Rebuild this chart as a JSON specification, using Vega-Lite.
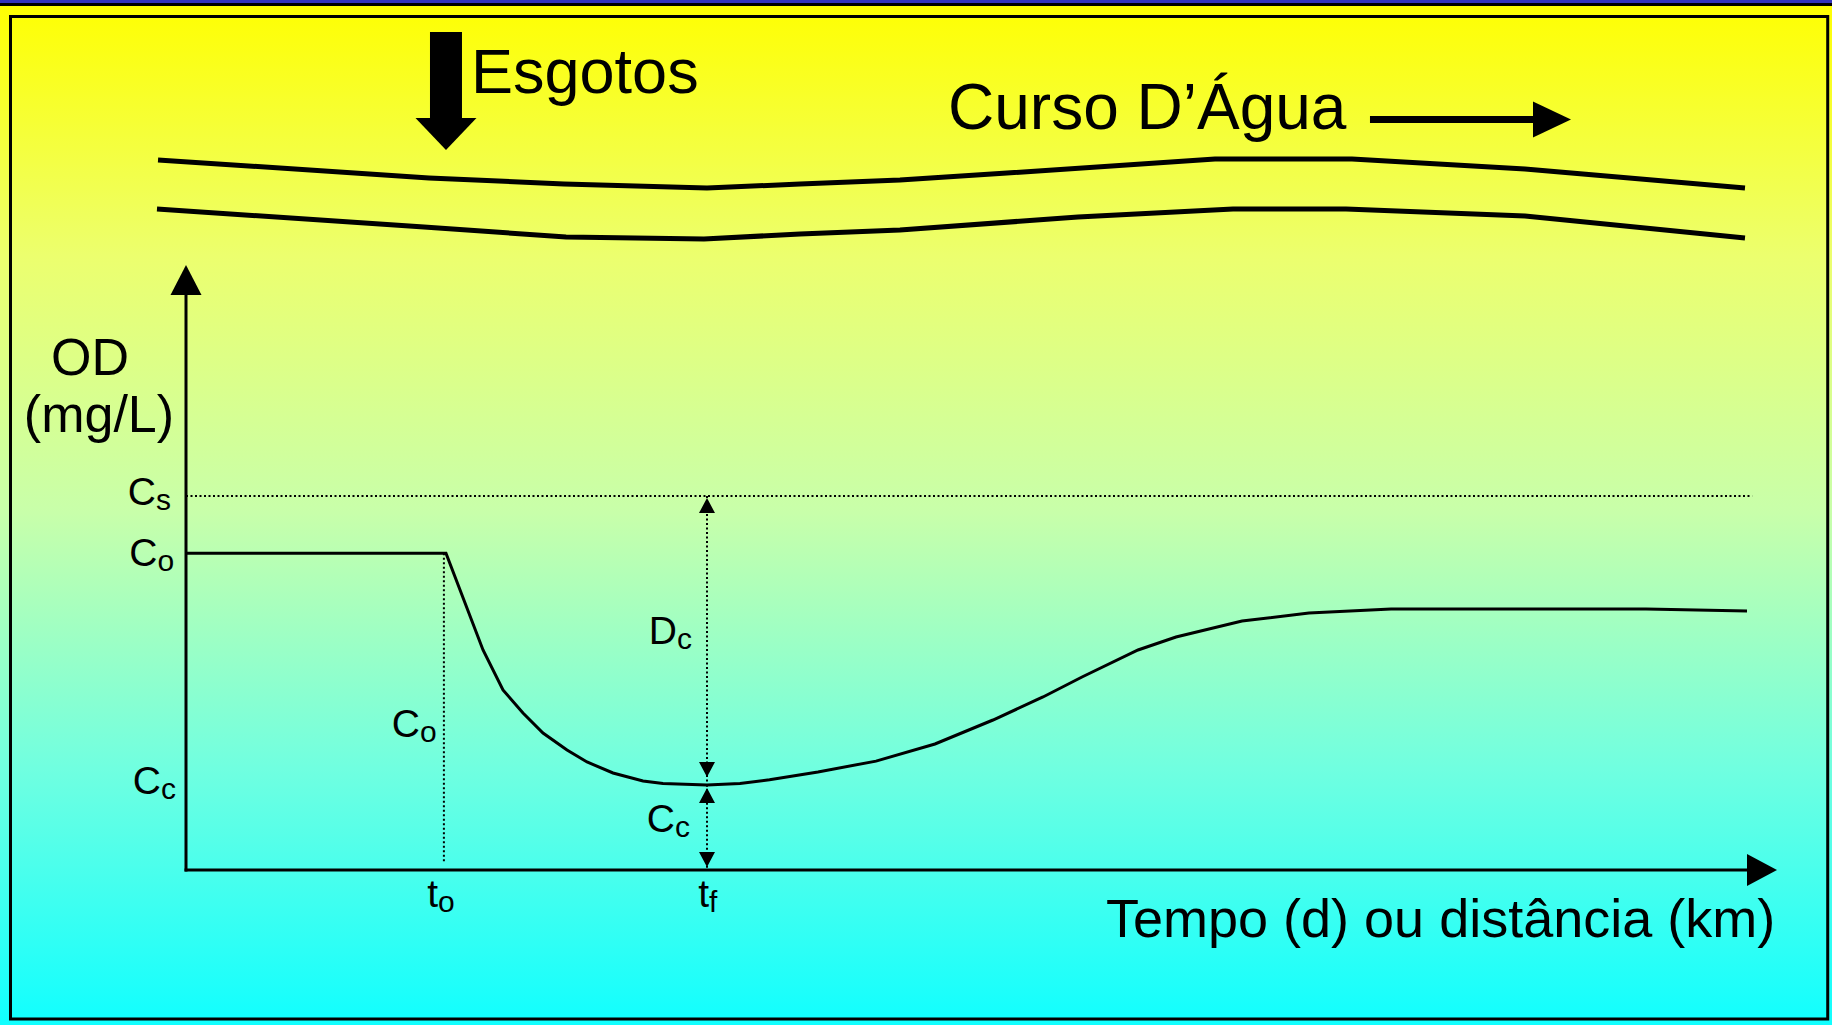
{
  "$schema": "https://vega.github.io/schema/vega-lite/v6.json",
  "autosize": {"type": "fit", "contains": "padding"},
  "width": 1832,
  "height": 1025,
  "padding": 0,
  "background": "#ffffff",
  "config": {"view": {"stroke": null}, "text": {"font": "Liberation Sans"}},
  "layer": [
    {
      "data": {"values": [{}]},
      "mark": {"type": "rect", "strokeWidth": 0, "color": {"gradient": "linear", "x1": 0, "y1": 0, "x2": 0, "y2": 1, "stops": [{"offset": 0, "color": "#ffff00"}, {"offset": 0.25, "color": "#ecff6e"}, {"offset": 0.5, "color": "#c8ffaa"}, {"offset": 0.75, "color": "#70ffe0"}, {"offset": 1, "color": "#10ffff"}]}},
      "encoding": {
        "x": {"datum": -3.5701, "type": "quantitative", "scale": {"domain": [-3.5701, 31.5931], "nice": false, "zero": false}, "axis": null},
        "x2": {"datum": 31.5931},
        "y": {"datum": 20.9336, "type": "quantitative", "scale": {"domain": [-3.7295, 20.9336], "nice": false, "zero": false}, "axis": null},
        "y2": {"datum": -3.7295}
      }
    },
    {
      "data": {"values": [{}]},
      "mark": {"type": "rect", "color": "#3434bd", "strokeWidth": 0},
      "encoding": {
        "x": {"datum": -3.5701, "type": "quantitative"},
        "x2": {"datum": 31.5931},
        "y": {"datum": 20.9336, "type": "quantitative"},
        "y2": {"datum": 20.8614}
      }
    },
    {
      "data": {"values": [{}]},
      "mark": {"type": "rect", "color": "#000000", "strokeWidth": 0},
      "encoding": {
        "x": {"datum": -3.5701, "type": "quantitative"},
        "x2": {"datum": 31.5931},
        "y": {"datum": 20.8614, "type": "quantitative"},
        "y2": {"datum": 20.7892}
      }
    },
    {
      "data": {"values": [{}]},
      "mark": {"type": "rect", "filled": false, "fill": null, "stroke": "#000000", "strokeWidth": 3},
      "encoding": {
        "x": {"datum": -3.3685, "type": "quantitative"},
        "x2": {"datum": 31.511},
        "y": {"datum": 20.5366, "type": "quantitative"},
        "y2": {"datum": -3.5852}
      }
    },
    {
      "data": {"values": [
        {"bank": "margem superior", "x": -0.537, "y": 17.084},
        {"bank": "margem superior", "x": 4.664, "y": 16.651},
        {"bank": "margem superior", "x": 7.255, "y": 16.506},
        {"bank": "margem superior", "x": 10.0, "y": 16.41},
        {"bank": "margem superior", "x": 11.785, "y": 16.506},
        {"bank": "margem superior", "x": 13.704, "y": 16.603},
        {"bank": "margem superior", "x": 15.758, "y": 16.771},
        {"bank": "margem superior", "x": 19.75, "y": 17.108},
        {"bank": "margem superior", "x": 22.38, "y": 17.108},
        {"bank": "margem superior", "x": 25.701, "y": 16.867},
        {"bank": "margem superior", "x": 29.923, "y": 16.41},
        {"bank": "margem inferior", "x": -0.557, "y": 15.905},
        {"bank": "margem inferior", "x": 4.568, "y": 15.472},
        {"bank": "margem inferior", "x": 7.294, "y": 15.231},
        {"bank": "margem inferior", "x": 9.942, "y": 15.183},
        {"bank": "margem inferior", "x": 11.785, "y": 15.303},
        {"bank": "margem inferior", "x": 13.704, "y": 15.4},
        {"bank": "margem inferior", "x": 17.121, "y": 15.712},
        {"bank": "margem inferior", "x": 20.096, "y": 15.905},
        {"bank": "margem inferior", "x": 22.265, "y": 15.905},
        {"bank": "margem inferior", "x": 25.701, "y": 15.736},
        {"bank": "margem inferior", "x": 29.923, "y": 15.207}
      ]},
      "mark": {"type": "line", "color": "#000000", "strokeWidth": 5},
      "encoding": {
        "x": {"field": "x", "type": "quantitative"},
        "y": {"field": "y", "type": "quantitative"},
        "detail": {"field": "bank"}
      }
    },
    {
      "data": {"values": [{}]},
      "mark": {"type": "rule", "color": "#000000", "strokeWidth": 32},
      "encoding": {
        "x": {"datum": 4.99, "type": "quantitative"},
        "y": {"datum": 20.164, "type": "quantitative"},
        "y2": {"datum": 18.05}
      }
    },
    {
      "data": {"values": [{}]},
      "mark": {"type": "point", "filled": true, "color": "#000000", "opacity": 1, "strokeWidth": 0, "size": 4, "shape": "M-30.5,-32L30.5,-32L0,0Z"},
      "encoding": {
        "x": {"datum": 4.99, "type": "quantitative"},
        "y": {"datum": 17.325, "type": "quantitative"}
      }
    },
    {
      "data": {"values": [{}]},
      "mark": {"type": "rule", "color": "#000000", "strokeWidth": 7},
      "encoding": {
        "x": {"datum": 22.725, "type": "quantitative"},
        "x2": {"datum": 25.93},
        "y": {"datum": 18.06, "type": "quantitative"}
      }
    },
    {
      "data": {"values": [{}]},
      "mark": {"type": "point", "filled": true, "color": "#000000", "opacity": 1, "strokeWidth": 0, "size": 4, "shape": "M0,0L-38,-18L-38,18Z"},
      "encoding": {
        "x": {"datum": 26.583, "type": "quantitative"},
        "y": {"datum": 18.06, "type": "quantitative"}
      }
    },
    {
      "data": {"values": [{}]},
      "mark": {"type": "rule", "color": "#000000", "strokeWidth": 3},
      "encoding": {
        "x": {"datum": 0, "type": "quantitative"},
        "y": {"datum": -0.036, "type": "quantitative"},
        "y2": {"datum": 13.9}
      }
    },
    {
      "data": {"values": [{}]},
      "mark": {"type": "rule", "color": "#000000", "strokeWidth": 3},
      "encoding": {
        "x": {"datum": -0.028, "type": "quantitative"},
        "x2": {"datum": 30.0},
        "y": {"datum": 0, "type": "quantitative"}
      }
    },
    {
      "data": {"values": [{}]},
      "mark": {"type": "point", "filled": true, "color": "#000000", "opacity": 1, "strokeWidth": 0, "size": 4, "shape": "M0,0L-15.5,30L15.5,30Z"},
      "encoding": {
        "x": {"datum": 0, "type": "quantitative"},
        "y": {"datum": 14.557, "type": "quantitative"}
      }
    },
    {
      "data": {"values": [{}]},
      "mark": {"type": "point", "filled": true, "color": "#000000", "opacity": 1, "strokeWidth": 0, "size": 4, "shape": "M0,0L-30,-16L-30,16Z"},
      "encoding": {
        "x": {"datum": 30.537, "type": "quantitative"},
        "y": {"datum": 0, "type": "quantitative"}
      }
    },
    {
      "data": {"values": [
        {"guia": "Cs", "x": 0, "x2": 30.06, "y": 9.0, "y2": 9.0},
        {"guia": "to", "x": 4.95, "x2": 4.95, "y": 7.62, "y2": 0.17},
        {"guia": "Dc", "x": 10.0, "x2": 10.0, "y": 9.0, "y2": 2.05},
        {"guia": "Cc", "x": 10.0, "x2": 10.0, "y": 2.05, "y2": 0}
      ]},
      "mark": {"type": "rule", "color": "#000000", "strokeWidth": 2, "strokeDash": [2, 2.5]},
      "encoding": {
        "x": {"field": "x", "type": "quantitative"},
        "x2": {"field": "x2"},
        "y": {"field": "y", "type": "quantitative"},
        "y2": {"field": "y2"}
      }
    },
    {
      "data": {"values": [
        {"seta": "Dc topo", "x": 10.0, "y": 8.951},
        {"seta": "Cc topo", "x": 10.0, "y": 1.973}
      ]},
      "mark": {"type": "point", "filled": true, "color": "#000000", "opacity": 1, "strokeWidth": 0, "size": 4, "shape": "M0,0L-8,15L8,15Z"},
      "encoding": {
        "x": {"field": "x", "type": "quantitative"},
        "y": {"field": "y", "type": "quantitative"}
      }
    },
    {
      "data": {"values": [
        {"seta": "Dc base", "x": 10.0, "y": 2.238},
        {"seta": "Cc base", "x": 10.0, "y": 0.072}
      ]},
      "mark": {"type": "point", "filled": true, "color": "#000000", "opacity": 1, "strokeWidth": 0, "size": 4, "shape": "M0,0L-8,-15L8,-15Z"},
      "encoding": {
        "x": {"field": "x", "type": "quantitative"},
        "y": {"field": "y", "type": "quantitative"}
      }
    },
    {
      "data": {"values": [
        {"t": 0, "od": 7.62},
        {"t": 4.99, "od": 7.62},
        {"t": 5.701, "od": 5.294},
        {"t": 6.084, "od": 4.331},
        {"t": 6.468, "od": 3.778},
        {"t": 6.852, "od": 3.297},
        {"t": 7.313, "od": 2.887},
        {"t": 7.697, "od": 2.599},
        {"t": 8.196, "od": 2.334},
        {"t": 8.772, "od": 2.142},
        {"t": 9.155, "od": 2.079},
        {"t": 10.0, "od": 2.045},
        {"t": 10.633, "od": 2.08},
        {"t": 11.2, "od": 2.17},
        {"t": 12.13, "od": 2.358},
        {"t": 13.244, "od": 2.62},
        {"t": 14.376, "od": 3.032},
        {"t": 15.489, "od": 3.609},
        {"t": 16.449, "od": 4.163},
        {"t": 17.198, "od": 4.644},
        {"t": 18.273, "od": 5.294},
        {"t": 19.002, "od": 5.606},
        {"t": 20.269, "od": 5.991},
        {"t": 21.554, "od": 6.184},
        {"t": 23.129, "od": 6.28},
        {"t": 28.023, "od": 6.28},
        {"t": 29.962, "od": 6.232}
      ]},
      "mark": {"type": "line", "color": "#000000", "strokeWidth": 3},
      "encoding": {
        "x": {"field": "t", "type": "quantitative"},
        "y": {"field": "od", "type": "quantitative"}
      }
    },
    {
      "data": {"values": [
        {"texto": "Esgotos", "x": 5.47, "y": 18.696}
      ]},
      "mark": {"type": "text", "fontSize": 63, "align": "left", "baseline": "alphabetic", "color": "#000000"},
      "encoding": {
        "x": {"field": "x", "type": "quantitative"},
        "y": {"field": "y", "type": "quantitative"},
        "text": {"field": "texto"}
      }
    },
    {
      "data": {"values": [
        {"texto": "Curso D’Água", "x": 14.626, "y": 17.83}
      ]},
      "mark": {"type": "text", "fontSize": 64, "align": "left", "baseline": "alphabetic", "color": "#000000"},
      "encoding": {
        "x": {"field": "x", "type": "quantitative"},
        "y": {"field": "y", "type": "quantitative"},
        "text": {"field": "texto"}
      }
    },
    {
      "data": {"values": [
        {"texto": "OD", "x": -1.843, "y": 11.911},
        {"texto": "(mg/L)", "x": -1.67, "y": 10.546}
      ]},
      "mark": {"type": "text", "fontSize": 52, "align": "center", "baseline": "alphabetic", "color": "#000000"},
      "encoding": {
        "x": {"field": "x", "type": "quantitative"},
        "y": {"field": "y", "type": "quantitative"},
        "text": {"field": "texto"}
      }
    },
    {
      "data": {"values": [
        {"texto": "Tempo (d) ou distância (km)", "x": 17.658, "y": -1.612}
      ]},
      "mark": {"type": "text", "fontSize": 54, "align": "left", "baseline": "alphabetic", "color": "#000000"},
      "encoding": {
        "x": {"field": "x", "type": "quantitative"},
        "y": {"field": "y", "type": "quantitative"},
        "text": {"field": "texto"}
      }
    },
    {
      "data": {"name": "rotulos", "values": [
        {"base": "C", "indice": "s", "x": -0.576, "y": 8.783},
        {"base": "C", "indice": "o", "x": -0.547, "y": 7.315},
        {"base": "C", "indice": "c", "x": -0.48, "y": 1.829},
        {"base": "C", "indice": "o", "x": 4.491, "y": 3.2},
        {"base": "D", "indice": "c", "x": 9.424, "y": 5.438},
        {"base": "C", "indice": "c", "x": 9.386, "y": 0.914},
        {"base": "t", "indice": "o", "x": 4.837, "y": -0.89},
        {"base": "t", "indice": "f", "x": 10.038, "y": -0.89}
      ]},
      "layer": [
        {
          "mark": {"type": "text", "fontSize": 39, "align": "right", "baseline": "alphabetic", "color": "#000000"},
          "encoding": {
            "x": {"field": "x", "type": "quantitative"},
            "y": {"field": "y", "type": "quantitative"},
            "text": {"field": "base"}
          }
        },
        {
          "mark": {"type": "text", "fontSize": 30, "align": "left", "baseline": "alphabetic", "dy": 5, "color": "#000000"},
          "encoding": {
            "x": {"field": "x", "type": "quantitative"},
            "y": {"field": "y", "type": "quantitative"},
            "text": {"field": "indice"}
          }
        }
      ]
    }
  ]
}
